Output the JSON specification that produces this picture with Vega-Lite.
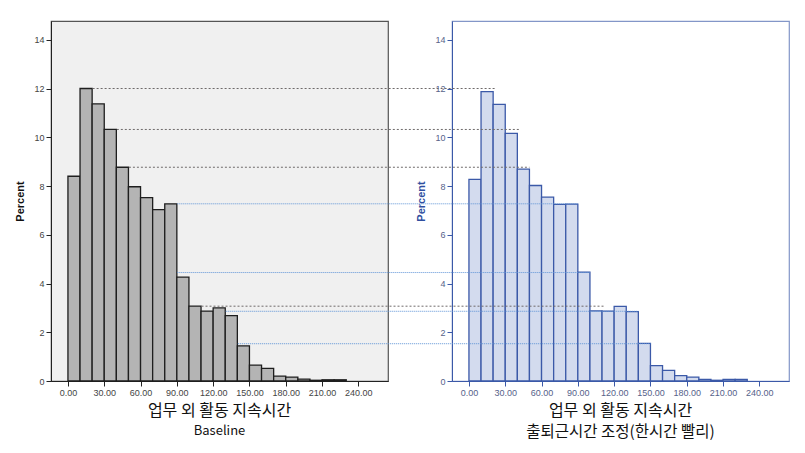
{
  "$schema": "https://vega.github.io/schema/vega-lite/v6.json",
  "background": "white",
  "padding": {"left": 14, "top": 20, "right": 5, "bottom": 5},
  "spacing": 64,
  "bounds": "flush",
  "config": {
    "font": "Liberation Sans",
    "axis": {"grid": false, "labelFontSize": 9, "tickSize": 5, "labelPadding": 2},
    "title": {"font": "Noto Sans CJK KR", "fontWeight": "normal", "color": "#111", "subtitleFont": "Noto Sans CJK KR", "subtitleColor": "#111"}
  },
  "datasets": {
    "baseline": [
      {"bin_start": 0, "bin_end": 10, "pct": 8.4},
      {"bin_start": 10, "bin_end": 20, "pct": 12.0},
      {"bin_start": 20, "bin_end": 30, "pct": 11.37},
      {"bin_start": 30, "bin_end": 40, "pct": 10.32},
      {"bin_start": 40, "bin_end": 50, "pct": 8.77},
      {"bin_start": 50, "bin_end": 60, "pct": 7.97},
      {"bin_start": 60, "bin_end": 70, "pct": 7.52},
      {"bin_start": 70, "bin_end": 80, "pct": 7.03},
      {"bin_start": 80, "bin_end": 90, "pct": 7.27},
      {"bin_start": 90, "bin_end": 100, "pct": 4.26},
      {"bin_start": 100, "bin_end": 110, "pct": 3.07},
      {"bin_start": 110, "bin_end": 120, "pct": 2.87},
      {"bin_start": 120, "bin_end": 130, "pct": 3.0},
      {"bin_start": 130, "bin_end": 140, "pct": 2.68},
      {"bin_start": 140, "bin_end": 150, "pct": 1.44},
      {"bin_start": 150, "bin_end": 160, "pct": 0.65},
      {"bin_start": 160, "bin_end": 170, "pct": 0.52},
      {"bin_start": 170, "bin_end": 180, "pct": 0.2},
      {"bin_start": 180, "bin_end": 190, "pct": 0.16},
      {"bin_start": 190, "bin_end": 200, "pct": 0.08},
      {"bin_start": 200, "bin_end": 210, "pct": 0.03},
      {"bin_start": 210, "bin_end": 220, "pct": 0.05},
      {"bin_start": 220, "bin_end": 230, "pct": 0.05}
    ],
    "adjusted": [
      {"bin_start": 0, "bin_end": 10, "pct": 8.27},
      {"bin_start": 10, "bin_end": 20, "pct": 11.87},
      {"bin_start": 20, "bin_end": 30, "pct": 11.35},
      {"bin_start": 30, "bin_end": 40, "pct": 10.16},
      {"bin_start": 40, "bin_end": 50, "pct": 8.69},
      {"bin_start": 50, "bin_end": 60, "pct": 8.02},
      {"bin_start": 60, "bin_end": 70, "pct": 7.54},
      {"bin_start": 70, "bin_end": 80, "pct": 7.25},
      {"bin_start": 80, "bin_end": 90, "pct": 7.26},
      {"bin_start": 90, "bin_end": 100, "pct": 4.47},
      {"bin_start": 100, "bin_end": 110, "pct": 2.88},
      {"bin_start": 110, "bin_end": 120, "pct": 2.87},
      {"bin_start": 120, "bin_end": 130, "pct": 3.06},
      {"bin_start": 130, "bin_end": 140, "pct": 2.85},
      {"bin_start": 140, "bin_end": 150, "pct": 1.54},
      {"bin_start": 150, "bin_end": 160, "pct": 0.63},
      {"bin_start": 160, "bin_end": 170, "pct": 0.44},
      {"bin_start": 170, "bin_end": 180, "pct": 0.22},
      {"bin_start": 180, "bin_end": 190, "pct": 0.16},
      {"bin_start": 190, "bin_end": 200, "pct": 0.07},
      {"bin_start": 200, "bin_end": 210, "pct": 0.03},
      {"bin_start": 210, "bin_end": 220, "pct": 0.07},
      {"bin_start": 220, "bin_end": 230, "pct": 0.07}
    ],
    "guides_base": [
      {"from": -311, "to": 22, "level": 12.0},
      {"from": -291, "to": 42, "level": 10.32},
      {"from": -281, "to": 50, "level": 8.77},
      {"from": -221, "to": 112, "level": 3.07}
    ],
    "guides_adj": [
      {"from": -241, "to": 90, "level": 7.27},
      {"from": -241, "to": 100, "level": 4.45},
      {"from": -201, "to": 140, "level": 2.86},
      {"from": -191, "to": 150, "level": 1.53}
    ]
  },
  "hconcat": [
    {
      "width": 337,
      "height": 360,
      "view": {"fill": "#f0f0f0", "stroke": "#555555", "strokeWidth": 1.2},
      "title": {"text": "업무 외 활동 지속시간", "subtitle": "Baseline", "orient": "bottom", "anchor": "middle", "frame": "group", "fontSize": 16, "subtitleFontSize": 13, "offset": 6, "subtitlePadding": 6},
      "data": {"name": "baseline"},
      "mark": {"type": "bar", "fill": "#b4b4b4", "stroke": "#1e1e1e", "strokeWidth": 1.3},
      "encoding": {
        "x": {"field": "bin_start", "type": "quantitative", "scale": {"domain": [-14, 264.5], "nice": false, "zero": false},
              "axis": {"title": null, "values": [0, 30, 60, 90, 120, 150, 180, 210, 240], "format": ".2f", "domainColor": "#222", "tickColor": "#222", "labelColor": "#444"}},
        "x2": {"field": "bin_end"},
        "y": {"field": "pct", "type": "quantitative", "scale": {"domain": [0, 14.77], "nice": false},
              "axis": {"title": "Percent", "titleFontSize": 11, "titleFontWeight": "bold", "titleColor": "#111", "titlePadding": 8, "values": [0, 2, 4, 6, 8, 10, 12, 14], "domainColor": "#222", "tickColor": "#222", "labelColor": "#444"}},
        "y2": {"datum": 0}
      }
    },
    {
      "width": 337,
      "height": 360,
      "view": {"fill": "white", "stroke": "#8396c8", "strokeWidth": 1.2},
      "title": {"text": "업무 외 활동 지속시간", "subtitle": "출퇴근시간 조정(한시간 빨리)", "orient": "bottom", "anchor": "middle", "frame": "group", "fontSize": 16, "subtitleFontSize": 15.5, "offset": 6, "subtitlePadding": 6},
      "layer": [
        {
          "data": {"name": "adjusted"},
          "mark": {"type": "bar", "fill": "#d3dbee", "stroke": "#3b59a8", "strokeWidth": 1.3},
          "encoding": {
            "x": {"field": "bin_start", "type": "quantitative", "scale": {"domain": [-14, 264.5], "nice": false, "zero": false},
                  "axis": {"title": null, "values": [0, 30, 60, 90, 120, 150, 180, 210, 240], "format": ".2f", "domainColor": "#3b59a8", "tickColor": "#3b59a8", "labelColor": "#56628a"}},
            "x2": {"field": "bin_end"},
            "y": {"field": "pct", "type": "quantitative", "scale": {"domain": [0, 14.77], "nice": false},
                  "axis": {"title": "Percent", "titleFontSize": 11, "titleFontWeight": "bold", "titleColor": "#2f4f9f", "titlePadding": 8, "values": [0, 2, 4, 6, 8, 10, 12, 14], "domainColor": "#3b59a8", "tickColor": "#3b59a8", "labelColor": "#56628a"}},
            "y2": {"datum": 0}
          }
        },
        {
          "data": {"name": "guides_base"},
          "mark": {"type": "rule", "color": "#6e6a6a", "strokeWidth": 1, "strokeDash": [2, 2]},
          "encoding": {
            "x": {"field": "from", "type": "quantitative", "scale": {"domain": [-14, 264.5], "nice": false, "zero": false}},
            "x2": {"field": "to"},
            "y": {"field": "level", "type": "quantitative", "scale": {"domain": [0, 14.77], "nice": false}}
          }
        },
        {
          "data": {"name": "guides_adj"},
          "mark": {"type": "rule", "color": "#5d93d6", "strokeWidth": 1, "strokeDash": [1, 1]},
          "encoding": {
            "x": {"field": "from", "type": "quantitative", "scale": {"domain": [-14, 264.5], "nice": false, "zero": false}},
            "x2": {"field": "to"},
            "y": {"field": "level", "type": "quantitative", "scale": {"domain": [0, 14.77], "nice": false}}
          }
        }
      ]
    }
  ]
}
